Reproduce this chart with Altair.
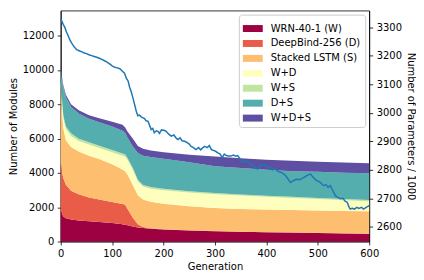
import altair as alt
import pandas as pd

# ---- data ----
generations = [0, 2, 5, 10, 20, 35, 55, 75, 100, 120, 125, 130, 140, 150, 160,
               175, 200, 250, 300, 350, 400, 450, 500, 550, 600]

series_names = ["WRN-40-1 (W)", "DeepBind-256 (D)", "Stacked LSTM (S)",
                "W+D", "W+S", "D+S", "W+D+S"]
colors = ["#9e0142", "#e95c47", "#fdbf6f", "#feffbe", "#bfe5a0", "#54aead", "#5e4fa2"]

w_modules = [1800, 1650, 1450, 1350, 1280, 1230, 1180, 1130, 1080, 1000, 980, 950, 880,
             820, 780, 740, 700, 640, 600, 570, 540, 520, 500, 470, 445]
d_modules = [2800, 2450, 2250, 1950, 1670, 1520, 1390, 1320, 1220, 1180, 1170, 950, 520,
             180, 70, 30, 20, 10, 5, 5, 5, 5, 5, 5, 5]
s_modules = [4400, 3700, 2900, 2600, 2550, 2500, 2430, 2350, 2200, 2020, 1950, 2000, 1900,
             1700, 1600, 1550, 1480, 1410, 1345, 1325, 1315, 1305, 1295, 1305, 1310]
wd_modules = [250, 500, 600, 650, 650, 600, 650, 650, 700, 800, 850, 850, 900,
              800, 750, 760, 780, 800, 810, 780, 740, 710, 680, 620, 580]
ws_modules = [150, 150, 150, 150, 150, 130, 130, 130, 130, 130, 130, 120, 100,
              100, 90, 90, 90, 70, 60, 60, 60, 60, 60, 70, 80]
ds_modules = [700, 1050, 1650, 1700, 1550, 1470, 1370, 1370, 1370, 1320, 1270, 1180, 1250,
              1550, 1710, 1750, 1750, 1690, 1570, 1540, 1520, 1500, 1520, 1530, 1560]
wds_modules = [150, 150, 100, 150, 150, 200, 200, 230, 280, 350, 300, 350, 450,
               410, 400, 380, 380, 430, 560, 570, 580, 600, 590, 600, 580]

param_gens = [0, 2, 5, 8, 11, 15, 18, 22, 26, 31, 36, 41, 46, 50, 55, 60, 65, 70, 76, 80,
              85, 90, 95, 100, 105, 110, 115, 120, 124, 128, 131, 134, 137, 140, 143, 147,
              150, 153, 157, 163, 166, 170, 173, 176, 179, 182, 186, 189, 192, 196, 202,
              205, 210, 215, 220, 225, 228, 232, 236, 241, 246, 250, 253, 258, 263, 268,
              272, 276, 280, 285, 289, 293, 297, 301, 305, 310, 314, 318, 322, 327, 331,
              336, 340, 344, 349, 353, 357, 361, 366, 370, 374, 379, 383, 387, 391, 395,
              400, 404, 408, 412, 417, 421, 425, 430, 434, 438, 443, 447, 451, 456, 460,
              464, 469, 473, 477, 482, 486, 490, 494, 498, 503, 507, 511, 516, 520, 524,
              529, 534, 539, 544, 549, 553, 557, 561, 563, 567, 571, 576, 580, 585, 589,
              594, 600]
param_values = [3330, 3322, 3310, 3300, 3285, 3268, 3255, 3243, 3232, 3222, 3218, 3214,
                3210, 3208, 3204, 3201, 3198, 3195, 3191, 3188, 3183, 3178, 3172, 3165,
                3160, 3158, 3155, 3146, 3139, 3120, 3112, 3090, 3075, 3055, 3034, 3005,
                2990, 2992, 2985, 2980, 2972, 2970, 2955, 2941, 2945, 2930, 2937, 2935,
                2928, 2940, 2938, 2935, 2925, 2918, 2922, 2910, 2906, 2912, 2902, 2900,
                2895, 2890, 2883, 2878, 2871, 2878, 2870, 2877, 2882, 2878, 2885, 2871,
                2868, 2865, 2860, 2855, 2843, 2855, 2850, 2848, 2848, 2852, 2848, 2850,
                2838, 2831, 2825, 2830, 2825, 2819, 2815, 2808, 2802, 2812, 2818, 2819,
                2812, 2808, 2808, 2800, 2803, 2796, 2793, 2790, 2785, 2778, 2765, 2755,
                2760, 2765, 2767, 2764, 2770, 2773, 2778, 2783, 2785, 2775, 2768, 2762,
                2758, 2752, 2744, 2748, 2738, 2745, 2728, 2709, 2703, 2698, 2700, 2690,
                2686, 2668, 2662, 2665, 2662, 2668, 2664, 2668, 2662, 2668, 2674]

x_ticks = [0, 100, 200, 300, 400, 500, 600]
left_ticks = [0, 2000, 4000, 6000, 8000, 10000, 12000]
right_ticks = [2600, 2700, 2800, 2900, 3000, 3100, 3200, 3300]

# ---- tables ----
all_series = [w_modules, d_modules, s_modules, wd_modules, ws_modules, ds_modules, wds_modules]
rows = []
for idx, (name, vals) in enumerate(zip(series_names, all_series)):
    for g, v in zip(generations, vals):
        rows.append({"gen": g, "series": name, "idx": idx, "modules": v})
stack_df = pd.DataFrame(rows)
line_df = pd.DataFrame({"gen": param_gens, "params": param_values})

FONT = "DejaVu Sans"

x_enc = alt.X("gen:Q", title="Generation",
              scale=alt.Scale(domain=[0, 600], nice=False, zero=False),
              axis=alt.Axis(values=x_ticks, format="d", labelFlush=False, titlePadding=3))

area = alt.Chart(stack_df).mark_area(interpolate="linear").encode(
    x=x_enc,
    y=alt.Y("modules:Q", stack="zero", title="Number of Modules",
            scale=alt.Scale(domain=[0, 13450], nice=False),
            axis=alt.Axis(values=left_ticks, format="d", orient="left", titlePadding=4)),
    color=alt.Color("series:N", sort=series_names,
                    scale=alt.Scale(domain=series_names, range=colors),
                    legend=alt.Legend(
                        title=None, orient="none", legendX=179, legendY=4,
                        symbolType="M-1,-0.35L1,-0.35L1,0.35L-1,0.35Z",
                        symbolSize=400, symbolStrokeWidth=0, symbolOpacity=1,
                        labelFont=FONT, labelFontSize=10, labelColor="black",
                        labelOffset=8, rowPadding=-1.4, padding=4,
                        fillColor="rgba(255,255,255,0.8)", strokeColor="#cccccc",
                        cornerRadius=3)),
    order=alt.Order("idx:Q", sort="ascending"),
)

line = alt.Chart(line_df).mark_line(color="#1f77b4", strokeWidth=1.5).encode(
    x=alt.X("gen:Q"),
    y=alt.Y("params:Q", title="Number of Parameters / 1000",
            scale=alt.Scale(domain=[2548, 3359], nice=False, zero=False),
            axis=alt.Axis(values=right_ticks, format="d", orient="right", titlePadding=4)),
)

chart = alt.layer(area, line).resolve_scale(y="independent").properties(
    width=310, height=232,
    padding={"left": 0, "top": 2, "right": 0, "bottom": 0},
).configure_view(
    stroke="black", strokeWidth=0.8
).configure_axis(
    grid=False, domainColor="black", domainWidth=0.8, tickColor="black",
    tickWidth=0.8, tickSize=3.5, labelPadding=3.5, labelFont=FONT, labelFontSize=10,
    labelColor="black", titleFont=FONT, titleFontSize=10, titleFontWeight="normal",
    titleColor="black",
)

chart.save("out.html", embed_options={"renderer": "svg", "actions": False})
